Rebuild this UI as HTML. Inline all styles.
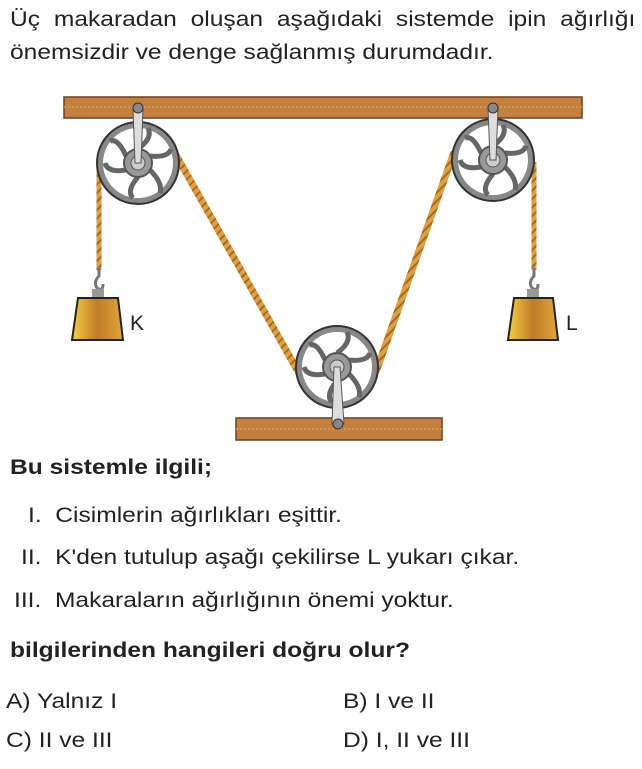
<!DOCTYPE html>
<html><head><meta charset="utf-8"><style>
body{margin:0;width:642px;height:769px;background:#fff;font-family:"Liberation Sans",sans-serif;color:#222;position:relative;overflow:hidden}
.t{position:absolute;font-size:21px;white-space:nowrap;transform:scaleX(1.17);transform-origin:0 0}
.b{font-weight:bold}
</style></head><body>
<div class="t" style="left:10px;top:8px;word-spacing:6px">Üç makaradan oluşan aşağıdaki sistemde ipin ağırlığı</div>
<div class="t" style="left:10px;top:41px">önemsizdir ve denge sağlanmış durumdadır.</div>
<svg width="642" height="769" style="position:absolute;left:0;top:0">
<defs>
<pattern id="rope" width="6" height="6" patternUnits="userSpaceOnUse" patternTransform="rotate(45)"><rect width="6" height="6" fill="#e0a040"/><rect width="2" height="6" fill="#a86a20"/></pattern>
<linearGradient id="w" x1="0" x2="1"><stop offset="0" stop-color="#f4d040"/><stop offset=".5" stop-color="#c07a28"/><stop offset="1" stop-color="#e0a838"/></linearGradient>
<g id="pul">
<circle r="41" fill="#888" stroke="#333" stroke-width="2"/>
<circle r="35" fill="#fff"/>
<g fill="none" stroke="#666" stroke-width="5">
<path d="M0-14 Q15-25 10-35"/><path d="M12-7 Q30-5 33-14"/><path d="M12 7 Q25 20 22 30"/><path d="M0 14 Q-12 28 -5 35"/><path d="M-12 7 Q-30 10 -33 0"/><path d="M-12-7 Q-20-25 -28-22"/>
</g>
<circle r="14" fill="#999" stroke="#555" stroke-width="2"/><circle r="7" fill="#ccc" stroke="#555"/>
</g>
</defs>
<rect x="64" y="97" width="518" height="21" fill="#c4803e" stroke="#6a4020" stroke-width="1.5"/>
<line x1="64" y1="107" x2="582" y2="107" stroke="#e8b070" stroke-dasharray="2 2"/>
<rect x="236" y="418" width="206" height="22" fill="#c4803e" stroke="#6a4020" stroke-width="1.5"/>
<line x1="236" y1="429" x2="442" y2="429" stroke="#e8b070" stroke-dasharray="2 2"/>
<line x1="99" y1="168" x2="99" y2="270" stroke="url(#rope)" stroke-width="5"/>
<line x1="534" y1="162" x2="534" y2="270" stroke="url(#rope)" stroke-width="5"/>
<line x1="176" y1="155" x2="300" y2="375" stroke="url(#rope)" stroke-width="7"/>
<line x1="376" y1="372" x2="454" y2="152" stroke="url(#rope)" stroke-width="7"/>
<use href="#pul" x="138" y="163"/>
<use href="#pul" x="493" y="160"/>
<use href="#pul" x="337" y="367"/>
<path d="M133 108 L143 108 L141 163 L135 163Z" fill="#ddd" stroke="#555"/><circle cx="138" cy="108" r="5" fill="#888" stroke="#333"/>
<path d="M488 108 L498 108 L496 160 L490 160Z" fill="#ddd" stroke="#555"/><circle cx="493" cy="108" r="5" fill="#888" stroke="#333"/>
<path d="M334 367 L340 367 L344 424 L332 424Z" fill="#ddd" stroke="#555"/><circle cx="338" cy="424" r="5" fill="#888" stroke="#333"/>
<g fill="none" stroke="#777" stroke-width="3">
<path d="M99 268 v8 q-6 6 -2 12 q6 4 6 -4"/><path d="M534 268 v8 q-6 6 -2 12 q6 4 6 -4"/></g>
<rect x="92" y="289" width="12" height="10" fill="#999"/><rect x="527" y="289" width="12" height="10" fill="#999"/>
<path d="M78 298 L118 298 L123 340 L72 340Z" fill="url(#w)" stroke="#222" stroke-width="2"/>
<path d="M514 298 L553 298 L558 340 L508 340Z" fill="url(#w)" stroke="#222" stroke-width="2"/>
<text x="130" y="330" font-family="Liberation Sans" font-size="21" fill="#222">K</text>
<text x="566" y="330" font-family="Liberation Sans" font-size="21" fill="#222">L</text>
</svg>
<div class="t b" style="left:10px;top:456px">Bu sistemle ilgili;</div>
<div class="t" style="left:28px;top:504px">I.&nbsp; Cisimlerin ağırlıkları eşittir.</div>
<div class="t" style="left:21px;top:546px">II.&nbsp; K'den tutulup aşağı çekilirse L yukarı çıkar.</div>
<div class="t" style="left:14px;top:589px">III.&nbsp; Makaraların ağırlığının önemi yoktur.</div>
<div class="t b" style="left:10px;top:639px">bilgilerinden hangileri doğru olur?</div>
<div class="t" style="left:6px;top:690px">A) Yalnız I</div>
<div class="t" style="left:343px;top:690px">B) I ve II</div>
<div class="t" style="left:6px;top:729px">C) II ve III</div>
<div class="t" style="left:343px;top:729px">D) I, II ve III</div>
</body></html>
